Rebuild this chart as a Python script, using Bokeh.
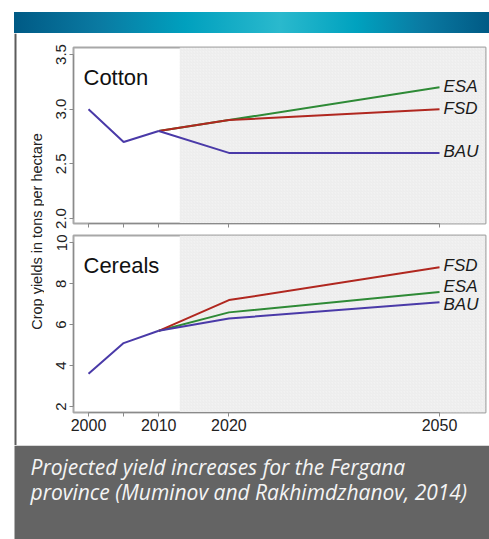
import math
from bokeh.plotting import figure
from bokeh.models import (Range1d, FixedTicker, BoxAnnotation, Label, Span, Div,
                          ColumnDataSource, PrintfTickFormatter)
from bokeh.layouts import column, row
from bokeh.embed import file_html
from bokeh.resources import INLINE
from bokeh.core.properties import value

# ---------------- data ----------------
years_hist = [2000, 2005, 2010]
years_proj = [2010, 2020, 2050]

cotton_hist = [3.0, 2.7, 2.8]
cotton_esa = [2.8, 2.9, 3.2]
cotton_fsd = [2.8, 2.9, 3.0]
cotton_bau = [2.8, 2.6, 2.6]

cereal_hist = [3.6, 5.1, 5.7]
cereal_esa = [5.7, 6.6, 7.6]
cereal_fsd = [5.7, 7.2, 8.8]
cereal_bau = [5.7, 6.3, 7.1]

scenarios = ["ESA", "FSD", "BAU"]
x_ticks = [2000, 2005, 2010, 2020, 2050]
x_labelled = [2000, 2010, 2020, 2050]
cotton_ticks = [2.0, 2.5, 3.0, 3.5]
cereal_ticks = [2, 4, 6, 8, 10]
projection_start = 2013

# ---------------- styles ----------------
COLORS = {"ESA": "#2e8a36", "FSD": "#b0271f", "BAU": "#4a3aa8"}
AXIS_FONT = "Liberation Sans"
X_RANGE = (1997.86, 2056.55)
COTTON_YR = (1.954, 3.564)
CEREAL_YR = (1.707, 10.357)
FIG_W = 445
AX_COL = "#8a8a8a"
PAGE_W = 489
OFF_X = 14
OFF_Y = 12
HEADER_H = 21


def make_panel(title, hist, proj, yr, yticks, yfmt, height, mtop, mbottom,
               show_xlabels, nudge):
    p = figure(width=FIG_W, height=height, x_range=Range1d(*X_RANGE),
               y_range=Range1d(*yr), output_backend="svg",
               toolbar_location=None, min_border_left=29, min_border_right=4,
               min_border_top=mtop, min_border_bottom=mbottom)
    p.grid.visible = False
    p.background_fill_color = "white"
    p.border_fill_color = "white"
    p.outline_line_color = "#a8a8a8"
    p.outline_line_width = 2

    p.add_layout(BoxAnnotation(left=projection_start, fill_color="#f2f2f2",
                               fill_alpha=1, line_color=None,
                               hatch_pattern="right_diagonal_line",
                               hatch_color="#e4e4e4", hatch_scale=3,
                               hatch_weight=0.5, level="underlay"))

    for s in ["ESA", "FSD", "BAU"]:
        p.line(years_proj, proj[s], line_color=COLORS[s], line_width=2)
    p.line(years_hist, hist, line_color=COLORS["BAU"], line_width=2)

    src = ColumnDataSource(dict(
        x=[years_proj[-1]] * len(scenarios),
        y=[proj[s][-1] for s in scenarios],
        t=scenarios,
        dy=[nudge[s] for s in scenarios]))
    p.text(x="x", y="y", text="t", source=src, x_offset=4, y_offset="dy",
           text_baseline="middle", text_align="left",
           text_font=value(AXIS_FONT), text_font_style="italic",
           text_font_size="17px", text_color="#1a1a1a")

    p.add_layout(Label(x=X_RANGE[0], y=yr[1], x_offset=10, y_offset=-30,
                       text=title, text_font=AXIS_FONT, text_font_size="22px",
                       text_color="#111111", text_baseline="alphabetic"))

    xa = p.xaxis[0]
    if show_xlabels:
        xa.ticker = FixedTicker(ticks=x_labelled,
                                minor_ticks=[t for t in x_ticks if t not in x_labelled])
        xa.major_label_text_font = AXIS_FONT
        xa.major_label_text_font_size = "16px"
        xa.major_label_text_color = "#222222"
        xa.major_label_standoff = 2
    else:
        xa.ticker = FixedTicker(ticks=[], minor_ticks=x_ticks)
        xa.major_label_standoff = 0
    xa.bounds = (x_ticks[0], x_ticks[-1])
    xa.major_tick_in = 0
    xa.major_tick_out = 4
    xa.minor_tick_in = 0
    xa.minor_tick_out = 4
    xa.axis_line_color = AX_COL
    xa.major_tick_line_color = AX_COL
    xa.minor_tick_line_color = AX_COL

    ya = p.yaxis[0]
    ya.ticker = FixedTicker(ticks=yticks)
    ya.formatter = PrintfTickFormatter(format=yfmt)
    ya.bounds = (yticks[0], yticks[-1])
    ya.minor_tick_line_color = None
    ya.major_tick_in = 0
    ya.major_tick_out = 4
    ya.axis_line_color = AX_COL
    ya.major_tick_line_color = AX_COL
    ya.major_label_orientation = "vertical"
    ya.major_label_text_font = AXIS_FONT
    ya.major_label_text_font_size = "15px"
    ya.major_label_text_color = "#222222"
    ya.major_label_standoff = 3
    return p


top = make_panel("Cotton", cotton_hist,
                 {"ESA": cotton_esa, "FSD": cotton_fsd, "BAU": cotton_bau},
                 COTTON_YR, cotton_ticks, "%.1f", 196, 14, 6, False,
                 {"ESA": -1, "FSD": -1, "BAU": -1})
bottom = make_panel("Cereals", cereal_hist,
                    {"ESA": cereal_esa, "FSD": cereal_fsd, "BAU": cereal_bau},
                    CEREAL_YR, cereal_ticks, "%d", 216, 6, 33, True,
                    {"ESA": -5, "FSD": -2, "BAU": 2})

# narrow strip with left border and shared y-axis label
PANEL_H = 412
STRIP_W = PAGE_W - FIG_W
strip = figure(width=STRIP_W, height=PANEL_H, x_range=Range1d(0, STRIP_W),
               y_range=Range1d(0, PANEL_H), output_backend="svg",
               toolbar_location=None, min_border=0)
strip.axis.visible = False
strip.grid.visible = False
strip.outline_line_color = None
strip.background_fill_color = "white"
strip.border_fill_color = "white"
strip.add_layout(Span(location=OFF_X + 1, dimension="height",
                      line_color="#5c5c5c", line_width=2))
strip.add_layout(Label(x=OFF_X + 22, y=PANEL_H - 198,
                       text="Crop yields in tons per hectare", angle=math.pi / 2,
                       text_align="center", text_baseline="middle",
                       text_font=AXIS_FONT, text_font_size="14.5px",
                       text_color="#222222"))

# header bar
header = Div(text="", width=PAGE_W, height=HEADER_H + OFF_Y, margin=0, styles={
    "background-image": "linear-gradient(90deg, #005a85 0%, #0a7aa2 18%, #00a0be 36%, "
                        "#2ab9cd 56%, #00a2bf 72%, #0a7aa2 86%, #005a85 100%)",
    "background-repeat": "no-repeat",
    "background-position": f"{OFF_X}px {OFF_Y}px",
    "background-size": f"{PAGE_W - OFF_X}px {HEADER_H}px",
    "background-color": "white"})

# caption box
CAP_H = 94
cap = figure(width=PAGE_W, height=CAP_H, x_range=Range1d(0, PAGE_W),
             y_range=Range1d(0, CAP_H), output_backend="svg",
             toolbar_location=None, min_border=0)
cap.axis.visible = False
cap.grid.visible = False
cap.outline_line_color = None
cap.background_fill_color = "white"
cap.border_fill_color = "white"
cap.add_layout(BoxAnnotation(left=OFF_X, fill_color="#646464", fill_alpha=1,
                             line_color=None))
for i, line in enumerate(["Projected yield increases for the Fergana",
                          "province (Muminov and Rakhimdzhanov, 2014)"]):
    cap.add_layout(Label(x=OFF_X + 16, y=CAP_H - 21 - 25 * i, text=line,
                         text_font="Open Sans", text_font_style="italic",
                         text_font_size="21px", text_color="#f4f4f4",
                         text_baseline="alphabetic"))

panel = row(strip, column(top, bottom))
layout = column(header, panel, cap)

open("out.html", "w").write(file_html(layout, INLINE))
